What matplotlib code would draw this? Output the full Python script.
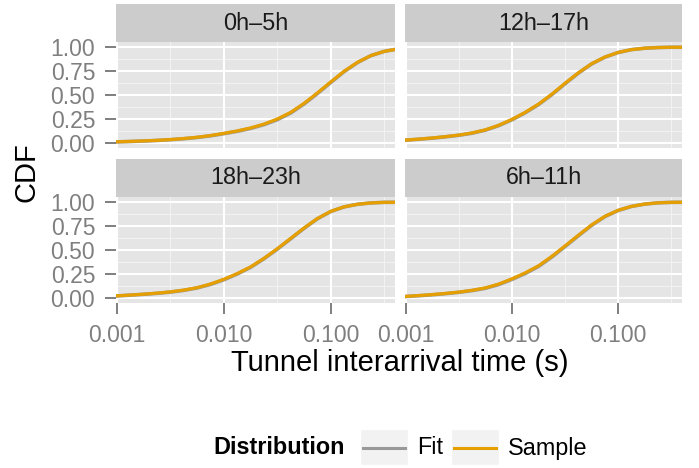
import matplotlib
matplotlib.use("Agg")
import matplotlib.pyplot as plt
from matplotlib.patches import Rectangle
from matplotlib.lines import Line2D

plt.rcParams["font.family"] = ["Liberation Sans", "DejaVu Sans"]

# valores (tempo em s, CDF)
x_vals = [0.001, 0.00133, 0.00178, 0.00237, 0.00316, 0.00422, 0.00562, 0.0075,
          0.01, 0.0133, 0.0178, 0.0237, 0.0316, 0.0422, 0.0562, 0.075,
          0.1, 0.133, 0.178, 0.237, 0.316, 0.422]

panels = ["0h\u20135h", "12h\u201317h", "18h\u201323h", "6h\u201311h"]

sample_0_5 = [0.010, 0.014, 0.019, 0.025, 0.033, 0.044, 0.057, 0.075,
              0.098, 0.123, 0.155, 0.195, 0.248, 0.318, 0.412, 0.522,
              0.637, 0.748, 0.843, 0.913, 0.957, 0.982]
fit_0_5 = [0.009, 0.013, 0.018, 0.024, 0.032, 0.042, 0.055, 0.072,
           0.095, 0.119, 0.150, 0.189, 0.241, 0.311, 0.405, 0.515,
           0.631, 0.744, 0.840, 0.912, 0.957, 0.982]

sample_12_17 = [0.028, 0.038, 0.050, 0.064, 0.080, 0.103, 0.135, 0.183,
                0.245, 0.318, 0.405, 0.508, 0.623, 0.733, 0.828, 0.898,
                0.946, 0.975, 0.990, 0.997, 1.000, 1.000]
fit_12_17 = [0.027, 0.037, 0.048, 0.062, 0.078, 0.100, 0.132, 0.179,
             0.240, 0.313, 0.400, 0.503, 0.618, 0.729, 0.825, 0.896,
             0.945, 0.975, 0.990, 0.997, 1.000, 1.000]

sample_18_23 = [0.020, 0.028, 0.037, 0.048, 0.061, 0.080, 0.105, 0.143,
                0.193, 0.252, 0.323, 0.412, 0.513, 0.622, 0.730, 0.830,
                0.905, 0.952, 0.979, 0.993, 0.999, 1.000]
fit_18_23 = [0.019, 0.027, 0.036, 0.046, 0.059, 0.077, 0.102, 0.139,
             0.188, 0.247, 0.318, 0.407, 0.508, 0.617, 0.726, 0.827,
             0.903, 0.951, 0.979, 0.993, 0.999, 1.000]

sample_6_11 = [0.014, 0.023, 0.033, 0.045, 0.059, 0.078, 0.103, 0.143,
               0.198, 0.260, 0.335, 0.433, 0.543, 0.655, 0.763, 0.853,
               0.916, 0.957, 0.981, 0.994, 0.999, 1.000]
fit_6_11 = [0.013, 0.021, 0.031, 0.043, 0.057, 0.075, 0.099, 0.138,
            0.192, 0.253, 0.328, 0.426, 0.536, 0.649, 0.758, 0.850,
            0.914, 0.956, 0.981, 0.994, 0.999, 1.000]

samples = [sample_0_5, sample_12_17, sample_18_23, sample_6_11]
fits = [fit_0_5, fit_12_17, fit_18_23, fit_6_11]

x_ticks = [0.001, 0.01, 0.1]
x_ticklabels = ["0.001", "0.010", "0.100"]
y_ticks = [0, 0.25, 0.5, 0.75, 1.0]
y_ticklabels = ["0.00", "0.25", "0.50", "0.75", "1.00"]

cor_fit = "#999999"
cor_sample = "#E69F00"

W, H = 699, 468
fig = plt.figure(figsize=(W / 100, H / 100), dpi=100)

# posições dos painéis em pixels (esq, topo)
lefts = [116, 405]
widths = [279, 277]
tops = [42, 197]
ph = 106
sh = 38

for i in range(4):
    r, c = divmod(i, 2)
    l, t, w = lefts[c], tops[r], widths[c]
    ax = fig.add_axes([l / W, 1 - (t + ph) / H, w / W, ph / H])
    ax.set_facecolor("#E5E5E5")
    ax.set_xscale("log")
    ax.set_xlim(0.000986, 0.398)
    ax.set_ylim(-0.055, 1.055)
    for v in [10 ** -2.5, 10 ** -1.5, 10 ** -0.5]:
        ax.axvline(v, color="#F2F2F2", lw=0.8, zorder=0)
    for v in [0.125, 0.375, 0.625, 0.875]:
        ax.axhline(v, color="#F2F2F2", lw=0.8, zorder=0)
    for v in x_ticks:
        ax.axvline(v, color="white", lw=1.5, zorder=0.5)
    for v in y_ticks:
        ax.axhline(v, color="white", lw=1.5, zorder=0.5)
    ax.plot(x_vals, fits[i], color=cor_fit, lw=2.6, zorder=2)
    ax.plot(x_vals, samples[i], color=cor_sample, lw=2.3, zorder=3)
    for s in ax.spines.values():
        s.set_visible(False)
    ax.minorticks_off()
    ax.set_xticks(x_ticks)
    ax.set_yticks(y_ticks)
    ax.tick_params(colors="#7F7F7F", labelcolor="#7F7F7F", length=8, width=1.4,
                   labelsize=16.5, pad=7)
    if r == 0:
        ax.tick_params(axis="x", bottom=False, labelbottom=False)
    else:
        ax.set_xticklabels(x_ticklabels)
    if c == 1:
        ax.tick_params(axis="y", left=False, labelleft=False)
    else:
        ax.set_yticklabels(y_ticklabels)

    # faixa do título do painel
    sax = fig.add_axes([l / W, 1 - t / H, w / W, sh / H])
    sax.set_facecolor("#CCCCCC")
    sax.set_xticks([])
    sax.set_yticks([])
    for s in sax.spines.values():
        s.set_visible(False)
    sax.text(0.5, 0.5, panels[i], ha="center", va="center", fontsize=16.8,
             color="#1A1A1A", transform=sax.transAxes)

fig.text(400 / W, 1 - 363 / H, "Tunnel interarrival time (s)", ha="center",
         va="center", fontsize=21)
fig.text(27 / W, 1 - 172 / H, "CDF", ha="center", va="center", rotation=90,
         fontsize=21)

# legenda manual
ly = 1 - 448 / H
fig.text(213 / W, ly, "Distribution", ha="left", va="center", fontsize=16.8,
         fontweight="bold")
for x0, cor, lab in [(360, cor_fit, "Fit"), (451, cor_sample, "Sample")]:
    fig.patches.append(Rectangle((x0 / W, 1 - 465 / H), 48 / W, 36 / H,
                                 transform=fig.transFigure, facecolor="#F2F2F2",
                                 edgecolor="white"))
    fig.lines.append(Line2D([(x0 + 3) / W, (x0 + 45) / W], [ly, ly],
                            transform=fig.transFigure, color=cor, lw=2.2))
    fig.text((x0 + 57) / W, ly, lab, ha="left", va="center", fontsize=16.8)

plt.savefig("out.png", dpi=100)
